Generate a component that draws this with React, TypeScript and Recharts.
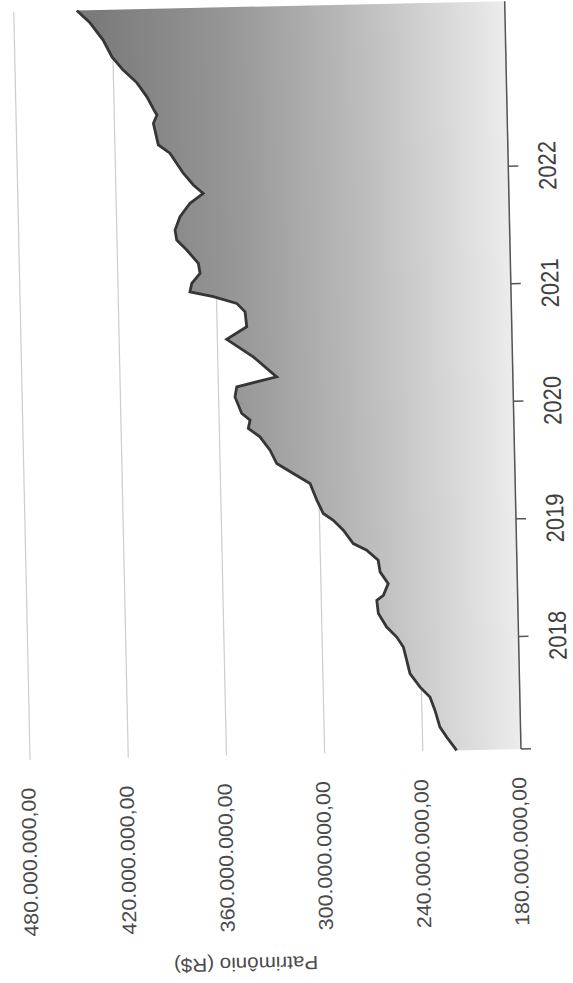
import React from 'react';
import { AreaChart, Area, XAxis, YAxis, CartesianGrid, Label } from 'recharts';

// Time as decimal year, values in millions of R$
const DATES = [
  2017.042, 2017.157, 2017.243, 2017.386, 2017.5, 2017.587, 2017.703, 2017.817, 2017.931,
  2018.017, 2018.104, 2018.22, 2018.333, 2018.374, 2018.473, 2018.574, 2018.673, 2018.761,
  2018.82, 2018.935, 2019.022, 2019.081, 2019.196, 2019.339, 2019.427, 2019.515, 2019.63,
  2019.745, 2019.818, 2019.889, 2019.947, 2020.089, 2020.174, 2020.252, 2020.426, 2020.58,
  2020.683, 2020.811, 2020.884, 2020.945, 2020.991, 2021.063, 2021.146, 2021.231, 2021.347,
  2021.434, 2021.519, 2021.631, 2021.744, 2021.826, 2021.899, 2022.001, 2022.174, 2022.246,
  2022.431, 2022.501, 2022.528, 2022.657, 2022.778, 2022.891, 2023.003, 2023.15, 2023.297,
  2023.404,
];
const VALUES = [
  219.3, 225.2, 229.2, 232.0, 234.9, 240.8, 246.8, 248.6, 250.5,
  254.4, 260.4, 265.3, 266.1, 262.0, 258.9, 263.7, 264.7, 271.6,
  279.7, 285.6, 291.6, 297.6, 301.4, 305.3, 315.4, 325.4, 329.3,
  335.3, 342.3, 341.1, 346.1, 350.0, 348.8, 324.3, 338.3, 354.3,
  341.9, 342.7, 347.7, 361.9, 376.1, 374.9, 369.7, 370.6, 377.5,
  383.5, 384.4, 381.2, 374.9, 366.7, 372.6, 378.6, 386.5, 393.5,
  396.2, 393.9, 395.1, 399.8, 405.7, 414.1, 420.6, 425.9, 433.6,
  441.5,
];
const YEAR_TICKS = [2018, 2019, 2020, 2021, 2022];
const VALUE_TICKS = [180, 240, 300, 360, 420, 480];
const AXIS_TITLE = 'Patrimônio (R$)';

const data = DATES.map((t, i) => ({ t, v: VALUES[i] }));

const FONT = '"Liberation Sans", Arial, sans-serif';

function formatBRL(millions: number): string {
  const s = String(Math.round(millions * 1e6)).replace(/\B(?=(\d{3})+(?!\d))/g, '.');
  return s + ',00';
}

const YTick = (props: any) => {
  const { x, y, payload } = props;
  return (
    <text
      x={x}
      y={y}
      dy={4.5}
      textAnchor="end"
      fontFamily={FONT}
      fontSize={20}
      fill="#4a4a4a"
      textLength={149}
      lengthAdjust="spacingAndGlyphs"
    >
      {formatBRL(payload.value)}
    </text>
  );
};

const XTick = (props: any) => {
  const { x, y, payload } = props;
  if (payload.value < YEAR_TICKS[0]) return <g />;
  return (
    <text
      x={x}
      y={y + 37.6}
      textAnchor="middle"
      fontFamily={FONT}
      fontSize={25}
      fill="#404040"
      textLength={49}
      lengthAdjust="spacingAndGlyphs"
    >
      {String(payload.value)}
    </text>
  );
};

const AxisTitle = (p: any) => {
  const vb = p && p.viewBox && p.viewBox.height ? p.viewBox : { x: 0, y: 30, width: 234, height: 491 };
  const cx = vb.x + 25;
  const cy = vb.y + vb.height / 2 - 34;
  return (
    <text
      x={cx}
      y={cy}
      transform={`rotate(-90 ${cx} ${cy})`}
      textAnchor="middle"
      dominantBaseline="central"
      fontFamily={FONT}
      fontSize={19}
      fill="#4a4a4a"
      textLength={144}
      lengthAdjust="spacingAndGlyphs"
    >
      {AXIS_TITLE}
    </text>
  );
};

export default function App() {
  return (
    <div
      style={{
        position: 'fixed',
        left: 0,
        top: 0,
        width: 573,
        height: 983,
        overflow: 'hidden',
        background: '#ffffff',
      }}
    >
      <div
        style={{
          position: 'absolute',
          left: 0,
          top: 0,
          width: 983,
          height: 573,
          transformOrigin: '0 0',
          transform:
            'translate(521px, 750px) rotate(-1.25deg) translate(-521px, -750px) translate(0px, 983px) rotate(-90deg)',
        }}
      >
        <AreaChart width={983} height={573} data={data} margin={{ top: 30, right: 1, bottom: 0, left: 0 }}>
          <defs>
            <linearGradient id="patrFill" x1="0" y1="0" x2="0" y2="1">
              <stop offset="0%" stopColor="#777777" />
              <stop offset="35%" stopColor="#969696" />
              <stop offset="65%" stopColor="#bbbbbb" />
              <stop offset="88%" stopColor="#dbdbdb" />
              <stop offset="100%" stopColor="#ececec" />
            </linearGradient>
          </defs>
          <CartesianGrid vertical={false} stroke="#cdcdcd" strokeWidth={1.2} />
          <XAxis
            dataKey="t"
            type="number"
            domain={['dataMin', 'dataMax']}
            ticks={[DATES[0], ...YEAR_TICKS]}
            interval={0}
            tick={XTick}
            tickSize={10}
            tickMargin={0}
            height={52}
            axisLine={{ stroke: '#555555', strokeWidth: 1.5 }}
            tickLine={{ stroke: '#555555', strokeWidth: 1.5 }}
          />
          <YAxis
            type="number"
            domain={[180, 480]}
            ticks={VALUE_TICKS}
            interval={0}
            tick={YTick}
            axisLine={false}
            tickLine={false}
            tickSize={0}
            tickMargin={28}
            width={234}
          >
            <Label content={AxisTitle} />
          </YAxis>
          <Area
            type="linear"
            dataKey="v"
            baseValue={180}
            stroke="#363636"
            strokeWidth={2.8}
            fill="url(#patrFill)"
            fillOpacity={1}
            dot={false}
            activeDot={false}
            isAnimationActive={false}
          />
        </AreaChart>
      </div>
    </div>
  );
}
